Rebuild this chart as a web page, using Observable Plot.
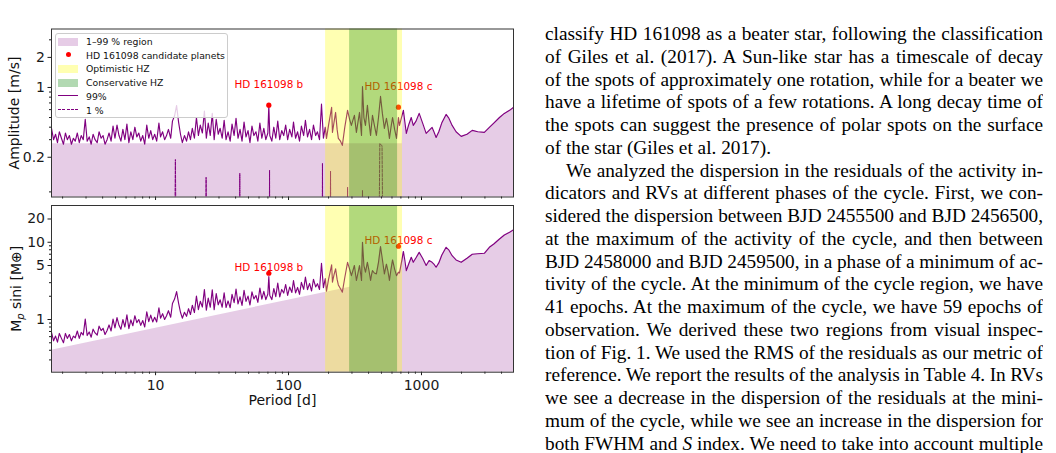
<!DOCTYPE html>
<html>
<head>
<meta charset="utf-8">
<script src="https://cdn.jsdelivr.net/npm/d3@7"></script>
<script src="https://cdn.jsdelivr.net/npm/@observablehq/plot@0.6"></script>
<style>
  html, body { margin: 0; padding: 0; background: #fff; }
  #page { position: relative; width: 1056px; height: 453px; overflow: hidden; background: #fff; }
  #top, #bottom { position: absolute; left: 0; }
  #top { top: 0; }
  #bottom { top: 200px; }
  #legend { position: absolute; left: 55px; top: 33px; width: 173px; height: 85px; box-sizing: border-box;
    background: rgba(255,255,255,0.8); border: 1px solid #cccccc; border-radius: 3px;
    font-family: "DejaVu Sans", sans-serif; font-size: 9.3px; color: #111; }
  #legend .sw { position: absolute; left: 2.3px; width: 20px; height: 7.7px; }
  #legend .lab { position: absolute; left: 30px; height: 12px; line-height: 12px; white-space: nowrap; }
  #col { position: absolute; left: 545px; top: 23px; width: 498px; font-family: "Liberation Serif", "Times New Roman", serif;
    font-size: 19.3px; line-height: 22.75px; color: #000; }
  #col div { height: 22.75px; overflow: hidden; white-space: normal; }
  #col .j { text-align: justify; text-align-last: justify; word-spacing: -2px; }
</style>
</head>
<body>
<div id="page">
  <div id="top"></div>
  <div id="bottom"></div>
  <div id="legend">
    <span class="sw" style="top:3.9px;background:rgba(128,0,128,0.2)"></span><span class="lab" style="top:1.8px">1–99 % region</span>
    <span class="sw" style="top:18px;left:10px;width:5.2px;height:5.2px;border-radius:50%;background:#ff0000"></span><span class="lab" style="top:15.5px">HD 161098 candidate planets</span>
    <span class="sw" style="top:31.4px;background:rgba(255,255,0,0.3)"></span><span class="lab" style="top:29.3px">Optimistic HZ</span>
    <span class="sw" style="top:45.1px;background:rgba(0,128,0,0.3)"></span><span class="lab" style="top:43px">Conservative HZ</span>
    <span class="sw" style="top:61.2px;height:1.2px;background:#800080"></span><span class="lab" style="top:56.8px">99%</span>
    <span class="sw" style="top:75px;height:1px;background:repeating-linear-gradient(to right,#800080 0 3px,transparent 3px 4.3px)"></span><span class="lab" style="top:70.5px">1 %</span>
  </div>
  <div id="col">
    <div class="j">classify HD 161098 as a beater star, following the classification</div>
    <div class="j">of Giles et al. (2017). A Sun-like star has a timescale of decay</div>
    <div class="j">of the spots of approximately one rotation, while for a beater we</div>
    <div class="j">have a lifetime of spots of a few rotations. A long decay time of</div>
    <div class="j">the spots can suggest the presence of polar spots on the surface</div>
    <div>of the star (Giles et al. 2017).</div>
    <div class="j" style="text-indent:21px">We analyzed the dispersion in the residuals of the activity in-</div>
    <div class="j">dicators and RVs at different phases of the cycle. First, we con-</div>
    <div class="j">sidered the dispersion between BJD 2455500 and BJD 2456500,</div>
    <div class="j">at the maximum of the activity of the cycle, and then between</div>
    <div class="j">BJD 2458000 and BJD 2459500, in a phase of a minimum of ac-</div>
    <div class="j">tivity of the cycle. At the minimum of the cycle region, we have</div>
    <div class="j">41 epochs. At the maximum of the cycle, we have 59 epochs of</div>
    <div class="j">observation. We derived these two regions from visual inspec-</div>
    <div class="j">tion of Fig. 1. We used the RMS of the residuals as our metric of</div>
    <div class="j">reference. We report the results of the analysis in Table 4. In RVs</div>
    <div class="j">we see a decrease in the dispersion of the residuals at the mini-</div>
    <div class="j">mum of the cycle, while we see an increase in the dispersion for</div>
    <div class="j">both FWHM and <i>S</i> index. We need to take into account multiple</div>
    <div class="j">factors. The two regions do not have observations from overlap-</div>
  </div>
</div>
<script>
// ---------------- data ----------------
const periods = [
  1.65, 1.71, 1.77, 1.83, 1.89, 1.96, 2.03, 2.10, 2.17, 2.25,
  2.33, 2.41, 2.49, 2.58, 2.67, 2.76, 2.86, 2.96, 3.06, 3.17,
  3.28, 3.39, 3.51, 3.64, 3.76, 3.90, 4.03, 4.17, 4.32, 4.47,
  4.63, 4.79, 4.95, 5.13, 5.31, 5.49, 5.68, 5.88, 6.09, 6.30,
  6.52, 6.75, 6.99, 7.23, 7.48, 7.74, 8.01, 8.29, 8.59, 8.89,
  9.20, 9.52, 9.85, 10.2, 10.6, 10.9, 11.3, 11.7, 12.1, 12.5,
  13.0, 13.4, 13.9, 14.4, 14.9, 15.4, 15.9, 16.5, 17.1, 17.7,
  18.3, 18.9, 19.6, 20.3, 21.0, 21.7, 22.5, 23.3, 24.1, 24.9,
  25.8, 26.7, 27.6, 28.6, 29.6, 30.6, 31.7, 32.8, 33.9, 35.1,
  36.4, 37.6, 39.0, 40.3, 41.7, 43.2, 44.7, 46.3, 47.9, 49.6,
  51.3, 53.1, 54.9, 56.9, 58.8, 60.9, 63.0, 65.2, 67.5, 69.9,
  71.1, 72.3, 74.9, 77.5, 80.2, 83.0, 85.9, 88.9, 92.0, 95.2,
  98.5, 102, 106, 109, 113, 117, 121, 125, 130, 134,
  139, 144, 149, 154, 160, 165, 171, 177, 183, 189,
  193, 200, 211, 214, 220, 226, 232, 237, 246, 254,
  265, 278, 288, 297, 305, 313, 324, 333, 342, 354,
  360, 369, 379, 392, 403, 414, 421, 428, 442, 458,
  475, 492, 508, 526, 545, 560, 574, 590, 606, 628,
  649, 671, 683, 707, 731, 750, 769, 800, 838, 867,
  910, 961, 1020, 1084, 1142, 1202, 1240, 1288, 1350, 1420,
  1532, 1610, 1700, 1820, 1989, 2200, 2410, 2650, 2970, 3240,
  3500, 3860, 4200, 4600, 4920
];
const amp99 = [
  0.39, 0.30, 0.34, 0.28, 0.36, 0.31, 0.27, 0.35, 0.30, 0.33,
  0.27, 0.31, 0.29, 0.35, 0.28, 0.33, 0.30, 0.48, 0.29, 0.32,
  0.27, 0.34, 0.30, 0.28, 0.36, 0.31, 0.33, 0.27, 0.30, 0.35,
  0.29, 0.41, 0.31, 0.42, 0.33, 0.29, 0.38, 0.30, 0.43, 0.28,
  0.36, 0.30, 0.40, 0.32, 0.35, 0.29, 0.33, 0.27, 0.42, 0.31,
  0.37, 0.30, 0.34, 0.29, 0.44, 0.32, 0.36, 0.30, 0.33, 0.38,
  0.31, 0.46, 0.52, 0.66, 0.45, 0.34, 0.28, 0.33, 0.29, 0.36,
  0.30, 0.39, 0.31, 0.50, 0.33, 0.42, 0.35, 0.58, 0.31, 0.44,
  0.33, 0.55, 0.30, 0.48, 0.34, 0.39, 0.31, 0.47, 0.30, 0.36,
  0.29, 0.43, 0.33, 0.49, 0.31, 0.38, 0.29, 0.45, 0.32, 0.37,
  0.28, 0.41, 0.33, 0.36, 0.29, 0.44, 0.31, 0.39, 0.30, 0.35,
  0.66, 0.33, 0.29, 0.40, 0.31, 0.46, 0.30, 0.37, 0.33, 0.42,
  0.30, 0.38, 0.32, 0.45, 0.31, 0.36, 0.29, 0.41, 0.33, 0.47,
  0.32, 0.38, 0.30, 0.42, 0.33, 0.36, 0.30, 0.68, 0.31, 0.40,
  0.309, 0.42, 0.631, 0.355, 0.45, 0.562, 0.38, 0.309, 0.29, 0.263,
  0.40, 0.589, 0.48, 0.417, 0.47, 0.525, 0.355, 0.45, 0.562, 0.331,
  1.02, 0.50, 0.417, 0.661, 0.45, 0.331, 0.42, 0.525, 0.42, 0.331,
  0.50, 0.813, 0.55, 0.389, 0.49, 0.40, 0.309, 0.40, 0.50, 0.38,
  0.309, 0.50, 0.417, 0.50, 0.589, 0.45, 0.347, 0.42, 0.50, 0.417,
  0.46, 0.55, 0.44, 0.347, 0.372, 0.398, 0.36, 0.316, 0.36, 0.44,
  0.537, 0.49, 0.417, 0.36, 0.324, 0.34, 0.372, 0.36, 0.355, 0.398,
  0.44, 0.50, 0.55, 0.59, 0.631
];
const mass99 = [
  0.68, 0.53, 0.61, 0.51, 0.66, 0.57, 0.50, 0.66, 0.57, 0.64,
  0.53, 0.61, 0.58, 0.71, 0.57, 0.68, 0.63, 1.01, 0.62, 0.69,
  0.59, 0.75, 0.67, 0.63, 0.82, 0.72, 0.77, 0.64, 0.72, 0.85,
  0.71, 1.01, 0.78, 1.06, 0.84, 0.75, 1.00, 0.80, 1.15, 0.76,
  0.99, 0.83, 1.12, 0.91, 1.00, 0.84, 0.97, 0.80, 1.26, 0.94,
  1.14, 0.93, 1.07, 0.93, 1.42, 1.04, 1.19, 1.00, 1.12, 1.30,
  1.07, 1.61, 1.84, 2.30, 1.63, 1.24, 1.04, 1.24, 1.10, 1.38,
  1.16, 1.53, 1.23, 2.01, 1.34, 1.72, 1.45, 2.44, 1.32, 1.89,
  1.44, 2.42, 1.34, 2.16, 1.55, 1.80, 1.44, 2.22, 1.43, 1.74,
  1.42, 2.12, 1.65, 2.48, 1.59, 1.97, 1.52, 2.39, 1.72, 2.01,
  1.54, 2.28, 1.85, 2.05, 1.67, 2.56, 1.83, 2.32, 1.81, 2.14,
  3.60, 2.04, 1.81, 2.52, 1.98, 2.97, 1.96, 2.45, 2.20, 2.84,
  2.05, 2.63, 2.24, 3.18, 2.21, 2.60, 2.12, 3.02, 2.46, 3.54,
  2.44, 2.93, 2.34, 3.32, 2.64, 2.91, 2.45, 5.35, 2.59, 3.38,
  2.32, 3.3, 5.1, 3.04, 3.8, 4.53, 3.3, 2.8, 2.5, 2.26,
  3.5, 5.5, 4.5, 3.7, 4.3, 5.0, 3.2, 4.0, 5.0, 3.2,
  10.0, 5.0, 4.1, 5.5, 4.3, 3.2, 3.8, 4.3, 4.0, 3.9,
  5.5, 8.8, 6.0, 3.9, 5.2, 4.2, 3.2, 4.5, 5.9, 4.5,
  3.7, 4.1, 4.0, 5.5, 7.6, 5.8, 4.3, 5.2, 6.4, 5.5,
  6.3, 7.4, 6.2, 5.0, 5.8, 5.5, 5.2, 4.75, 5.4, 6.8,
  8.6, 7.9, 6.7, 5.9, 5.5, 6.2, 7.0, 7.1, 7.2, 8.6,
  9.5, 11.0, 12.4, 13.5, 14.5
];
const onePctPeriods = [1.65, 13.9, 14.1, 14.3, 23.8, 24.0, 24.2, 42.7, 43.0, 43.3, 71.6, 72.0, 72.4,
  179, 180, 181, 205.5, 207, 208.5, 276, 278, 280, 357, 360, 363, 478, 486, 505, 513, 4920];
const onePctAmp = [0.02, 0.02, 0.19, 0.02, 0.02, 0.126, 0.02, 0.02, 0.138, 0.02, 0.02, 0.148, 0.02,
  0.02, 0.174, 0.02, 0.02, 0.145, 0.02, 0.02, 0.10, 0.02, 0.02, 0.093, 0.02, 0.02, 0.275, 0.26, 0.02, 0.02];
const ampFillPeriods = [1.65, 715];
const ampFillLevels = [0.273, 0.273];
const massFillPeriods = [1.65, 290];
const massFillLevels = [0.40, 2.62];
const planetNames = ["HD 161098 b", "HD 161098 c"];
const planetPeriods = [71.1, 671];
const planetAmps = [0.665, 0.635];
const planetMasses = [3.97, 8.87];
const optimisticHZ = [190, 720];
const conservativeHZ = [288, 661];
const periodTicks = [10, 100, 1000];
const periodMinorTicks = [2,3,4,5,6,7,8,9,20,30,40,50,60,70,80,90,200,300,400,500,600,700,800,900,2000,3000,4000];
const ampTicks = [0.2, 1, 2];
const ampMinorTicks = [0.09, 0.3, 0.4, 0.5, 0.6, 0.7, 0.8, 0.9, 3];
const massTicks = [1, 5, 10, 20];
const massMinorTicks = [0.3, 0.4, 0.5, 0.6, 0.7, 0.8, 0.9, 2, 3, 4, 6, 7, 8, 9];
const periodDomain = [1.65, 4920];
const ampDomain = [0.08, 3.85];
const massDomain = [0.208, 29.9];

// ---------------- tables ----------------
const lineRows = periods.map((p, i) => ({period: p, amp: amp99[i], mass: mass99[i]}));
const ampFill = ampFillPeriods.map((p, i) => ({period: p, upper: ampFillLevels[i]}))
  .concat(lineRows.filter(d => d.period > ampFillPeriods[1]).map(d => ({period: d.period, upper: d.amp})));
const massFill = massFillPeriods.map((p, i) => ({period: p, upper: massFillLevels[i]}))
  .concat(lineRows.filter(d => d.period > massFillPeriods[1]).map(d => ({period: d.period, upper: d.mass})));
const onePct = onePctPeriods.map((p, i) => ({period: p, amp: onePctAmp[i]}));
const planets = planetNames.map((n, i) => ({name: n, period: planetPeriods[i], amp: planetAmps[i], mass: planetMasses[i]}));
const hzOpt = [{x1: optimisticHZ[0], x2: optimisticHZ[1]}];
const hzCons = [{x1: conservativeHZ[0], x2: conservativeHZ[1]}];

const axisColor = "#1a1a1a";
const common = {
  width: 520,
  marginLeft: 51,
  marginRight: 7,
  style: {fontFamily: "DejaVu Sans, sans-serif", fontSize: "14px", background: "transparent", color: "#111"}
};

const topPlot = Plot.plot({
  ...common,
  height: 200,
  marginTop: 28.5,
  marginBottom: 3.5,
  x: {type: "log", domain: periodDomain},
  y: {type: "log", domain: ampDomain},
  marks: [
    Plot.areaY(ampFill, {x: "period", y1: 0.01, y2: "upper", fill: "purple", fillOpacity: 0.2, clip: true}),
    Plot.line(lineRows, {x: "period", y: "amp", stroke: "purple", strokeWidth: 1.15, clip: true}),
    Plot.line(onePct, {x: "period", y: "amp", stroke: "purple", strokeWidth: 1, strokeDasharray: "3,1.3", clip: true}),
    Plot.dot(planets, {x: "period", y: "amp", r: 2.6, fill: "#ff0000"}),
    Plot.text(planets, {x: "period", y: "amp", text: "name", fill: "#ff0000", fontSize: 10.4, dy: -20.7, textAnchor: "middle", lineAnchor: "middle"}),
    Plot.rect(hzOpt, {x1: "x1", x2: "x2", fill: "yellow", fillOpacity: 0.3}),
    Plot.rect(hzCons, {x1: "x1", x2: "x2", fill: "green", fillOpacity: 0.3}),
    Plot.axisY({ticks: ampTicks, tickSize: 3.5, tickPadding: 3, tickFormat: d => String(d), label: null, color: axisColor}),
    Plot.axisY({ticks: ampMinorTicks, tickSize: 2, tickFormat: () => "", label: null, color: axisColor}),
    Plot.axisX({ticks: periodTicks, tickSize: 3.5, tickFormat: () => "", label: null, color: axisColor}),
    Plot.axisX({ticks: periodMinorTicks, tickSize: 2, tickFormat: () => "", label: null, color: axisColor}),
    Plot.text(["Amplitude [m/s]"], {text: d => d, frameAnchor: "left", rotate: -90, dx: -37, textAnchor: "middle", lineAnchor: "middle", fontSize: 14, fill: "#111"}),
    Plot.frame({stroke: "#333", strokeWidth: 1})
  ]
});

const bottomPlot = Plot.plot({
  ...common,
  height: 253,
  marginTop: 5,
  marginBottom: 81.3,
  x: {type: "log", domain: periodDomain},
  y: {type: "log", domain: massDomain},
  marks: [
    Plot.areaY(massFill, {x: "period", y1: 0.01, y2: "upper", fill: "purple", fillOpacity: 0.2, clip: true}),
    Plot.line(lineRows, {x: "period", y: "mass", stroke: "purple", strokeWidth: 1.15, clip: true}),
    Plot.dot(planets, {x: "period", y: "mass", r: 2.6, fill: "#ff0000"}),
    Plot.text(planets, {x: "period", y: "mass", text: "name", fill: "#ff0000", fontSize: 10.4, dy: -6, textAnchor: "middle", lineAnchor: "middle"}),
    Plot.rect(hzOpt, {x1: "x1", x2: "x2", fill: "yellow", fillOpacity: 0.3}),
    Plot.rect(hzCons, {x1: "x1", x2: "x2", fill: "green", fillOpacity: 0.3}),
    Plot.axisY({ticks: massTicks, tickSize: 3.5, tickPadding: 3, tickFormat: d => String(d), label: null, color: axisColor}),
    Plot.axisY({ticks: massMinorTicks, tickSize: 2, tickFormat: () => "", label: null, color: axisColor}),
    Plot.axisX({ticks: periodTicks, tickSize: 3.5, tickPadding: 4.8, tickFormat: d => String(d), label: null, color: axisColor}),
    Plot.axisX({ticks: periodMinorTicks, tickSize: 2, tickFormat: () => "", label: null, color: axisColor}),
    Plot.text(["Period [d]"], {text: d => d, frameAnchor: "bottom", dy: 28, textAnchor: "middle", lineAnchor: "middle", fontSize: 14, fill: "#111"}),
    Plot.text(["Mp sini [M⊕]"], {text: d => d, frameAnchor: "left", rotate: -90, dx: -35, textAnchor: "middle", lineAnchor: "middle", fontSize: 14, fill: "#111"}),
    Plot.frame({stroke: "#333", strokeWidth: 1})
  ]
});

document.getElementById("top").appendChild(topPlot);
document.getElementById("bottom").appendChild(bottomPlot);

// subscript p (italic) in the mass label
const NS = "http://www.w3.org/2000/svg";
bottomPlot.querySelectorAll("text").forEach(t => {
  if (t.textContent === "Mp sini [M⊕]") {
    t.textContent = "";
    const a = document.createElementNS(NS, "tspan"); a.textContent = "M";
    const b = document.createElementNS(NS, "tspan"); b.textContent = "p";
    b.setAttribute("font-style", "italic"); b.setAttribute("font-size", "10"); b.setAttribute("dy", "3");
    const c = document.createElementNS(NS, "tspan"); c.textContent = " sini [M⊕]"; c.setAttribute("dy", "-3");
    t.appendChild(a); t.appendChild(b); t.appendChild(c);
  }
});
</script>
</body>
</html>
